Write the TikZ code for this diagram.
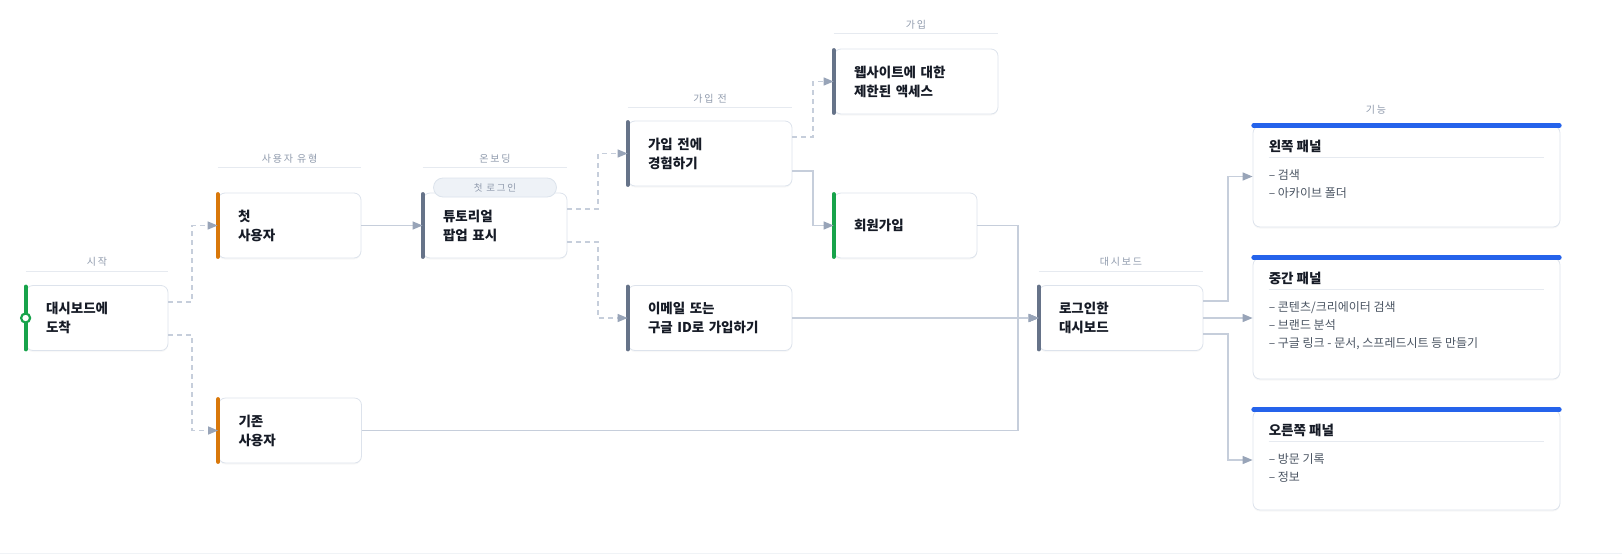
\documentclass[tikz,border=0pt]{standalone}
\usepackage{fontspec}
\setmainfont{Noto Sans CJK KR}
\newfontfamily\spacedfont[LetterSpace=18]{Noto Sans CJK KR}
\usetikzlibrary{arrows.meta,positioning,shadows,calc}
\definecolor{ink}{HTML}{161B26}
\definecolor{boxline}{HTML}{DDE3EC}
\definecolor{rulegray}{HTML}{E6EAF0}
\definecolor{labelgray}{HTML}{8F9AAC}
\definecolor{linkgray}{HTML}{C6CEDB}
\definecolor{tipgray}{HTML}{98A4B8}
\definecolor{itemgray}{HTML}{4B5563}
\definecolor{startgreen}{HTML}{17A34A}
\definecolor{userorange}{HTML}{D9780A}
\definecolor{slatebar}{HTML}{667389}
\definecolor{panelblue}{HTML}{2563EB}
\definecolor{pillfill}{HTML}{EEF2F7}
\definecolor{pillline}{HTML}{DCE3EC}

\begin{document}
\begin{tikzpicture}[x=1pt, y=-1pt,
  stepbox/.style={draw=boxline, fill=white, line width=0.8pt, rounded corners=7pt,
    drop shadow={shadow xshift=0pt, shadow yshift=-1.5pt, opacity=0.06},
    font=\fontsize{13.5}{19}\selectfont\bfseries, text=ink, align=left,
    inner xsep=20pt, inner ysep=0pt, text width=#1, minimum height=65pt},
  stepbox/.default=103pt,
  panelbox/.style={draw=boxline, fill=white, line width=0.8pt, rounded corners=7pt,
    drop shadow={shadow xshift=0pt, shadow yshift=-1.5pt, opacity=0.06},
    minimum width=307pt, minimum height=#1, inner sep=0pt},
  paneltitle/.style={font=\fontsize{13.5}{16}\selectfont\bfseries, text=ink,
    anchor=west, inner sep=0pt},
  panelitems/.style={font=\fontsize{12}{18}\selectfont, text=itemgray, align=left,
    anchor=north west, inner sep=0pt},
  edgebar/.style={line width=4pt, line cap=round, shorten <=1.5pt, shorten >=1.5pt},
  panelbar/.style={panelblue, line width=4.5pt, line cap=round, shorten <=1pt, shorten >=1pt},
  colhead/.style={font=\spacedfont\fontsize{10}{12}\selectfont, text=labelgray, inner sep=0pt},
  colrule/.style={rulegray, line width=1pt},
  pill/.style={fill=pillfill, draw=pillline, line width=0.8pt, rounded corners=9.5pt,
    minimum width=123pt, minimum height=19pt, inner sep=0pt,
    font=\spacedfont\fontsize{9.5}{11}\selectfont, text=labelgray},
  link/.style={linkgray, line width=1.4pt, -{Triangle[length=10pt, width=8pt, color=tipgray]}},
  dashlink/.style={link, dash pattern=on 5pt off 4pt},
]
\useasboundingbox (0,0) rectangle (1622,555);

% ── Steps ───────────────────────────────────────────────────────────────
\node[stepbox=102pt] (start)    at (97,318)    {대시보드에\\도착};
\node[stepbox]       (first)    at (289.5,225.5) {첫\\사용자};
\node[stepbox]       (existing) at (290,430.5) {기존\\사용자};
\node[stepbox=104pt] (tutor)    at (495,225.5) {튜토리얼\\팝업 표시};
\node[stepbox=124pt] (preexp)   at (710,153.5) {가입 전에\\경험하기};
\node[stepbox=124pt] (email)    at (710,318)   {이메일 또는\\구글 ID로 가입하기};
\node[stepbox=124pt] (limited)  at (916,81.5)  {웹사이트에 대한\\제한된 액세스};
\node[stepbox]       (signup)   at (905.5,225.5) {회원가입};
\node[stepbox=124pt] (dash)     at (1121,318)  {로그인한\\대시보드};

\foreach \n/\c in {start/startgreen, first/userorange, existing/userorange,
                   tutor/slatebar, preexp/slatebar, email/slatebar,
                   limited/slatebar, signup/startgreen, dash/slatebar}
  \draw[edgebar, \c] (\n.north west) -- (\n.south west);

\node[circle, draw=startgreen, fill=white, line width=2.2pt, minimum size=9pt,
      inner sep=0pt] (startdot) at (start.west) {};
\node[pill] (firstlogin) at (495,187.5) {첫 로그인};

% ── Column heads ────────────────────────────────────────────────────────
\foreach \n/\t/\d in {start/시작/14, first/사용자 유형/25, tutor/온보딩/25,
                      preexp/가입 전/13, limited/가입/15, dash/대시보드/14}
  \draw[colrule] ([yshift=\d pt]\n.north west) -- ([yshift=\d pt]\n.north east)
    node[colhead, midway, above=4pt] (h\n) {\t};
\node[colhead] (hfeat) at (1376,110) {기능};

% ── Feature panels ──────────────────────────────────────────────────────
\node[panelbox=101pt] (lp) at (1406.5,176.5) {};
\node[panelbox=121pt] (mp) at (1406.5,318.5) {};
\node[panelbox=100pt] (rp) at (1406.5,460)   {};
\foreach \p/\t/\i in {lp/왼쪽 패널/{– 검색\\– 아카이브 폴더},
                      mp/중간 패널/{– 콘텐츠/크리에이터 검색\\– 브랜드 분석\\– 구글 링크 - 문서, 스프레드시트 등 만들기},
                      rp/오른쪽 패널/{– 방문 기록\\– 정보}} {
  \draw[panelbar] (\p.north west) -- (\p.north east);
  \node[paneltitle] (\p title) at ($(\p.north west)+(16,20.5)$) {\t};
  \draw[colrule] ($(\p.north west)+(16,32)$) -- ($(\p.north east)+(-16,32)$);
  \node[panelitems] (\p items) at ($(\p.north west)+(16,44)$) {\i};
}

% ── Connectors ──────────────────────────────────────────────────────────
\coordinate (jstart) at (192,0);
\coordinate (jtutor) at (598,0);
\coordinate (jpre)   at (813,0);
\coordinate (jsign)  at (1018,0);
\coordinate (jdash)  at (1228,0);

\draw[dashlink] ([yshift=16pt]start.east)  -| (jstart |- first.west) -- (first.west);
\draw[dashlink] ([yshift=-17pt]start.east) -| (jstart |- existing.west) -- (existing.west);
\draw[link] (first.east) -- (tutor.west);
\draw[dashlink] ([yshift=16.5pt]tutor.east)  -| (jtutor |- preexp.west) -- (preexp.west);
\draw[dashlink] ([yshift=-16.5pt]tutor.east) -| (jtutor |- email.west) -- (email.west);
\draw[dashlink] ([yshift=16.5pt]preexp.east) -| (jpre |- limited.west) -- (limited.west);
\draw[link] ([yshift=-17.5pt]preexp.east) -| (jpre |- signup.west) -- (signup.west);
\draw[link] (signup.east) -| (jsign |- dash.west) -- (dash.west);
\draw[link] (existing.east) -| (jsign |- dash.west) -- (dash.west);
\draw[link] (email.east) -- (dash.west);
\draw[link] ([yshift=17pt]dash.east)  -| (jdash |- lp.west) -- (lp.west);
\draw[link] (dash.east) -- (dash.east -| mp.west);
\draw[link] ([yshift=-16pt]dash.east) -| (jdash |- rp.west) -- (rp.west);

\draw[rulegray!60, line width=1pt] (0,553.5) -- (1622,553.5);
\end{tikzpicture}
\end{document}
